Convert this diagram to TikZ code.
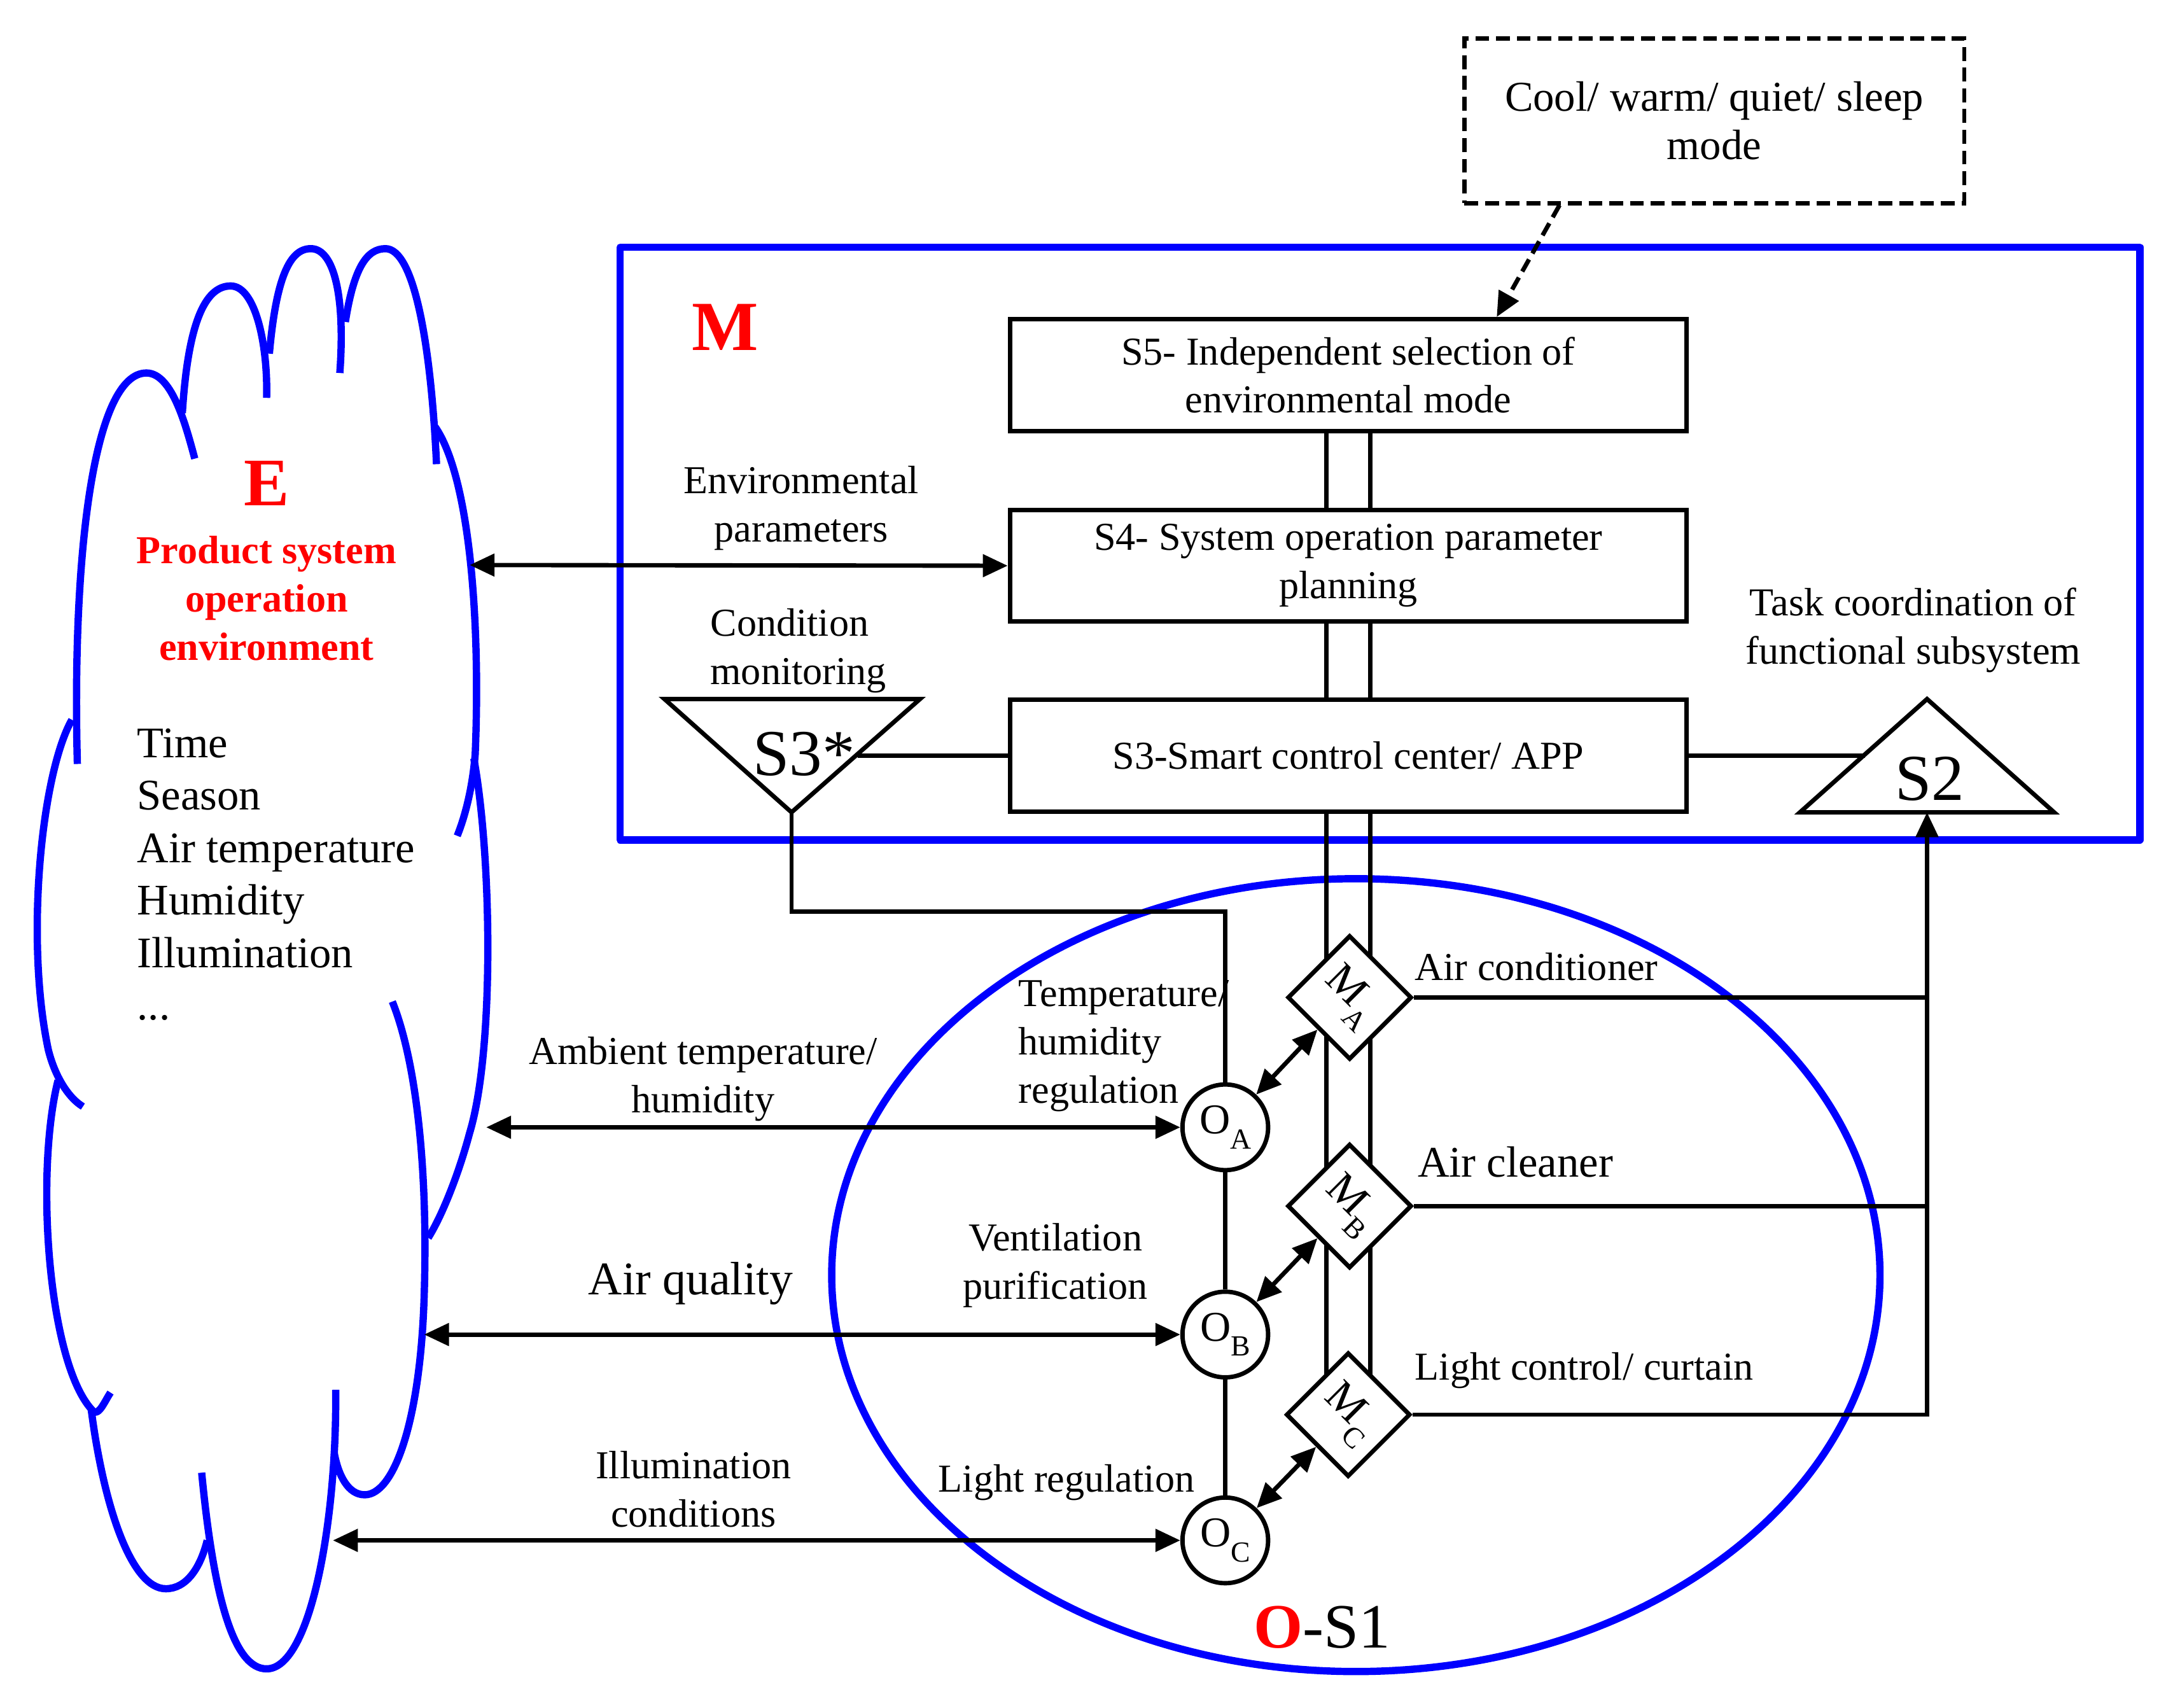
\documentclass[tikz,border=0pt]{standalone}
\usepackage{fontspec}
\setmainfont{Liberation Serif}
\usetikzlibrary{shapes.geometric,arrows.meta,calc,backgrounds}
\definecolor{cblue}{RGB}{0,0,255}
\definecolor{cred}{RGB}{255,0,0}
\newcommand{\subx}[1]{\raisebox{-0.35em}{\fontsize{12}{12}\selectfont #1}}
\begin{document}
\begin{tikzpicture}[x=0.02cm,y=-0.02cm,
  >={Triangle[length=0.36cm,width=0.32cm]},
  basefont/.style={font=\fontsize{16.3}{19.9}\selectfont},
  lbl/.style={basefont,align=center,inner sep=0pt},
  box/.style={draw,line width=1.8pt,fill=white,minimum width=9.8cm,minimum height=1.62cm,inner sep=0pt,align=center,basefont},
  dashbox/.style={draw,line width=1.8pt,dash pattern=on 0.2cm off 0.1cm,minimum width=7.24cm,minimum height=2.38cm,inner sep=0pt,align=center,font=\fontsize{17.5}{19.9}\selectfont},
  ocirc/.style={circle,draw,line width=1.8pt,fill=white,minimum size=1.24cm,inner sep=0pt,font=\fontsize{17.5}{17.5}\selectfont},
  mdia/.style={diamond,draw,line width=1.8pt,fill=white,minimum width=1.8cm,minimum height=1.8cm,inner sep=0pt},
  mlab/.style={rotate=-45,inner sep=0pt,font=\fontsize{18}{18}\selectfont},
  bl/.style={line width=3pt,draw=cblue,line join=round},
  ln/.style={line width=1.8pt},
  big/.style={inner sep=0pt,font=\fontsize{27}{27}\selectfont}
]
\useasboundingbox (0,0) rectangle (1568,1236);

% ---------- nodes ----------
\node[dashbox] (mode) at (1241,87.5) {Cool/ warm/ quiet/ sleep\\mode};
\node[box] (S5) at (976,271.5) {S5- Independent selection of\\environmental mode};
\node[box] (S4) at (976,409.5) {S4- System operation parameter\\planning};
\node[box] (S3) at (976,547) {S3-Smart control center/ APP};

\node[ocirc] (OA) at (887,816) {O\subx{A}};
\node[ocirc] (OB) at (887,966) {O\subx{B}};
\node[ocirc] (OC) at (887,1115) {O\subx{C}};

\node[mdia] (MA) at (977,722) {};
\node[mdia] (MB) at (977,873) {};
\node[mdia] (MC) at (976,1024) {};
\node[mlab] (MAl) at (MA) {M\subx{A}};
\node[mlab] (MBl) at (MB) {M\subx{B}};
\node[mlab] (MCl) at (MC) {M\subx{C}};

% triangles
\draw[ln,fill=white] (481,506) -- (666,506) -- (573,588) -- cycle;
\coordinate (s3sb) at (573,588);
\coordinate (s3sr) at (621,547);
\coordinate (s3corner) at (573,660);
\node[big] (s3star) at (582,546) {S3*};
\draw[ln,fill=white] (1395,506) -- (1487,588) -- (1303,588) -- cycle;
\coordinate (s2b) at (1395,588);
\coordinate (s2l) at (1350,547);
\node[big] (s2lab) at (1397,564) {S2};

% free ends on the cloud
\coordinate (envL) at (340,409);
\coordinate (ambL) at (352,816);
\coordinate (aqL) at (307,966);
\coordinate (illL) at (241,1115);

% ---------- background: blue shapes and bus lines ----------
\begin{pgfonlayer}{background}
\draw[bl] (449,179) rectangle (1549,608);
\draw[bl] (981.5,923) ellipse [x radius=7.59cm, y radius=5.74cm];
% cloud
\draw[bl] (56,553) .. controls (52,400) and (68,270) .. (106,270) .. controls (125,270) and (135,310) .. (141,332);
\draw[bl] (132,299) .. controls (136,235) and (148,207) .. (167,207) .. controls (185,207) and (194,250) .. (193,288);
\draw[bl] (195,256) .. controls (200,200) and (210,180) .. (225,180) .. controls (242,180) and (250,215) .. (246,270);
\draw[bl] (250,233) .. controls (256,195) and (265,180) .. (279,180) .. controls (300,180) and (312,250) .. (316,336);
\draw[bl] (315,309) .. controls (340,345) and (348,450) .. (344,546) .. controls (342,570) and (337,590) .. (331,605);
\draw[bl] (343,549) .. controls (356,620) and (358,760) .. (340,820) .. controls (332,850) and (320,880) .. (310,896);
\draw[bl] (284,725) .. controls (302,770) and (310,850) .. (307,940) .. controls (304,1030) and (285,1082) .. (264,1082) .. controls (252,1082) and (245,1068) .. (242,1052);
\draw[bl] (243,1006) .. controls (244,1100) and (225,1208) .. (193,1208) .. controls (170,1208) and (155,1160) .. (146,1066);
\draw[bl] (66,1020) .. controls (75,1090) and (95,1150) .. (120,1150) .. controls (135,1150) and (145,1135) .. (150,1115);
\draw[bl] (42,782) .. controls (25,850) and (35,990) .. (68,1022) .. controls (72,1024) and (76,1014) .. (80,1008);
\draw[bl] (52,521) .. controls (30,560) and (18,680) .. (35,760) .. controls (40,780) and (50,795) .. (60,801);
% double bus
\draw[ln] ([xshift=-0.32cm]S5.south) -- ([xshift=-0.32cm]S4.north);
\draw[ln] ([xshift=0.32cm]S5.south) -- ([xshift=0.32cm]S4.north);
\draw[ln] ([xshift=-0.32cm]S4.south) -- ([xshift=-0.32cm]S3.north);
\draw[ln] ([xshift=0.32cm]S4.south) -- ([xshift=0.32cm]S3.north);
\draw[ln] ([xshift=-0.32cm]S3.south) -- ([xshift=-0.32cm]S3.south |- MC.center);
\draw[ln] ([xshift=0.32cm]S3.south) -- ([xshift=0.32cm]S3.south |- MC.center);
\end{pgfonlayer}

% ---------- connectors ----------
\draw[ln,dash pattern=on 0.2cm off 0.1cm,->] ($(mode.south west)!0.193!(mode.south east)$) -- ($(S5.north west)!0.718!(S5.north east)$);
\draw[ln,<->] (envL) -- (S4.west);
\draw[ln] (s3sr) -- (S3.west);
\draw[ln] (S3.east) -- (s2l);
\draw[ln] (s3sb) -- (s3corner) -| (OA.north);
\draw[ln] (OA.south) -- (OB.north);
\draw[ln] (OB.south) -- (OC.north);
\draw[ln,<->] (ambL) -- (OA.west);
\draw[ln,<->] (aqL) -- (OB.west);
\draw[ln,<->] (illL) -- (OC.west);
\draw[ln,<->] (OA) -- (MA.south west);
\draw[ln,<->] (OB) -- (MB.south west);
\draw[ln,<->] (OC) -- (MC.south west);
\draw[ln] (MA.east) -- (MA.east -| s2b);
\draw[ln] (MB.east) -- (MB.east -| s2b);
\draw[ln,->] (MC.east) -| (s2b);

% ---------- labels ----------
\node[inner sep=0pt,text=cred,font=\fontsize{29}{29}\selectfont\bfseries] (Mlab) at (525,237) {M};
\node[inner sep=0pt,text=cred,font=\fontsize{28}{28}\selectfont\bfseries] (Elab) at (193,350) {E};
\node[inner sep=0pt,align=center,text=cred,font=\fontsize{16.3}{19.9}\selectfont\bfseries] (Etext) at (193,433) {Product system\\operation\\environment};
\node[inner sep=0pt,align=left,anchor=west,font=\fontsize{18}{21.6}\selectfont] (Elist) at (99,633) {Time\\Season\\Air temperature\\Humidity\\Illumination\\...};
\node[lbl] (envlab) at (580,368) {Environmental\\parameters};
\node[lbl,align=left,anchor=west] (condlab) at (514,471) {Condition\\monitoring};
\node[lbl] (tasklab) at (1385,456) {Task coordination of\\functional subsystem};
\node[lbl] (amblab) at (509,781) {Ambient temperature/\\humidity};
\node[inner sep=0pt,font=\fontsize{19.3}{19.9}\selectfont] (aqlab) at (500,929) {Air quality};
\node[lbl] (illlab) at (502,1078) {Illumination\\conditions};
\node[lbl,align=left,anchor=west] (templab) at (737,757) {Temperature/\\humidity\\regulation};
\node[lbl] (ventlab) at (764,916) {Ventilation\\purification};
\node[lbl] (lrlab) at (772,1073) {Light regulation};
\node[lbl,anchor=west] (aclab) at (1024,700) {Air conditioner};
\node[inner sep=0pt,anchor=west,font=\fontsize{18}{19.9}\selectfont] (cllab) at (1026,841) {Air cleaner};
\node[lbl,anchor=west] (lclab) at (1024,992) {Light control/ curtain};
\node[inner sep=0pt,font=\fontsize{26}{26}\selectfont] (os1) at (957,1178) {\textcolor{cred}{\textbf{O}}-S1};
\end{tikzpicture}
\end{document}
